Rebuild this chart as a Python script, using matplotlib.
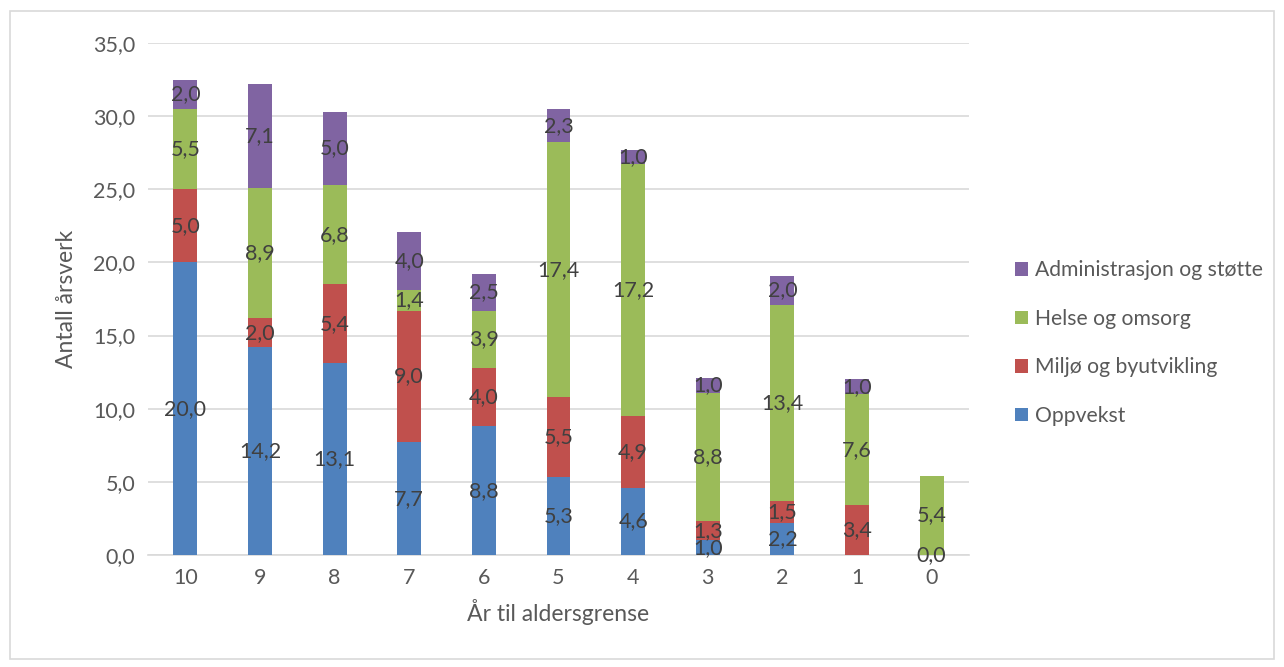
import numpy as np
import matplotlib.pyplot as plt
from matplotlib.patches import Rectangle

plt.rcParams['font.family'] = ['Lato', 'DejaVu Sans']

# ----------------------
# Data
# ----------------------
years = ["10", "9", "8", "7", "6", "5", "4", "3", "2", "1", "0"]
oppvekst = [20.0, 14.2, 13.1, 7.7, 8.8, 5.3, 4.6, 1.0, 2.2, np.nan, 0.0]
miljo = [5.0, 2.0, 5.4, 9.0, 4.0, 5.5, 4.9, 1.3, 1.5, 3.4, np.nan]
helse = [5.5, 8.9, 6.8, 1.4, 3.9, 17.4, 17.2, 8.8, 13.4, 7.6, 5.4]
admin = [2.0, 7.1, 5.0, 4.0, 2.5, 2.3, 1.0, 1.0, 2.0, 1.0, np.nan]

series = [
    ("Oppvekst", oppvekst, "#4F81BD"),
    ("Miljø og byutvikling", miljo, "#C0504D"),
    ("Helse og omsorg", helse, "#9BBB59"),
    ("Administrasjon og støtte", admin, "#8064A2"),
]

# ----------------------
# Plot
# ----------------------
fig = plt.figure(figsize=(12.84, 6.67), dpi=100)
ax = fig.add_axes([148 / 1284, 1 - 555 / 667, (969 - 148) / 1284, (555 - 43) / 667])

x = np.arange(len(years))
bottom = np.zeros(len(years))
handles = []
for name, vals, col in series:
    v = np.array(vals, dtype=float)
    h = np.nan_to_num(v)
    b = ax.bar(x, h, 0.32, bottom=bottom, color=col, label=name, zorder=3)
    handles.append(b)
    for xi, val, bt in zip(x, v, bottom):
        if not np.isnan(val):
            ax.text(xi, bt + val / 2, f"{val:.1f}".replace(".", ","),
                    ha="center", va="center", fontsize=15.5, color="#404040", zorder=4)
    bottom += h

ax.set_xlim(-0.5, len(years) - 0.5)
ax.set_ylim(0, 35)
ax.set_yticks(np.arange(0, 36, 5))
ax.set_yticklabels([f"{t:.1f}".replace(".", ",") for t in np.arange(0, 36, 5)])
ax.set_xticks(x)
ax.set_xticklabels(years)
ax.grid(axis="y", color="#D9D9D9", linewidth=1.2, zorder=0)
for s in ["top", "right", "left"]:
    ax.spines[s].set_visible(False)
ax.spines["bottom"].set_color("#D9D9D9")
ax.spines["bottom"].set_linewidth(1.2)
ax.tick_params(length=0, labelsize=15.5, labelcolor="#595959", pad=9)

ax.set_ylabel("Antall årsverk", fontsize=16.5, color="#595959", labelpad=12)
ax.set_xlabel("År til aldersgrense", fontsize=16.5, color="#595959", labelpad=8)

leg = fig.legend(handles[::-1], [s[0] for s in series][::-1],
                 loc="center left", bbox_to_anchor=(996 / 1284, 1 - 343 / 667),
                 frameon=False, fontsize=15.2, labelspacing=1.35,
                 handlelength=0.6, handleheight=0.6, handletextpad=0.35)
for t in leg.get_texts():
    t.set_color("#595959")

fig.patches.append(Rectangle((10 / 1284, 8 / 667), 1264 / 1284, 648 / 667,
                             transform=fig.transFigure, fill=False,
                             edgecolor="#D9D9D9", linewidth=1.2))

fig.savefig("out.png", dpi=100)
